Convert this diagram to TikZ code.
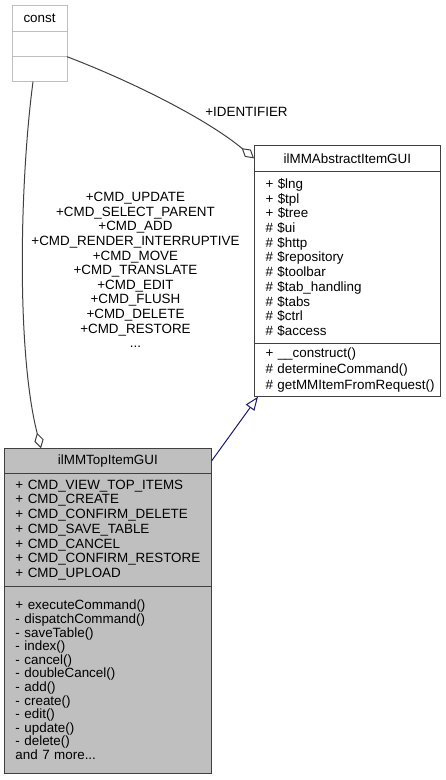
\documentclass[tikz,border=0pt]{standalone}
\usepackage{fontspec}
\setmainfont{Liberation Sans}
\usepackage{xcolor}
\usetikzlibrary{arrows.meta, positioning}
\definecolor{edgeblue}{HTML}{191970}

\begin{document}
\begin{tikzpicture}[x=1pt, y=-1pt,
        classname/.style={rectangle, draw=black!75, line width=1pt, inner xsep=11.5pt, inner ysep=0pt, outer sep=0pt, align=center, font={\fontsize{13.4}{14.7}\selectfont}},
        classpart/.style={classname, align=left, execute at begin node={\hyphenpenalty=10000\exhyphenpenalty=10000}},
        lightclass/.style={draw=gray!50},
        topclass/.style={fill=gray!50},
        aggr/.style={-{Diamond[open, length=16pt, width=9.5pt]}, draw=black!75, line width=1pt},
        inherit/.style={-{Triangle[open, length=13.6pt, width=10.4pt]}, draw=edgeblue, line width=1pt},
        edgelabel/.style={align=center, inner sep=0pt, font={\fontsize{13.4}{14.6}\selectfont}}]

        \useasboundingbox (0,0) rectangle (446,780);

        % Class const
        \node[classname, lightclass, text width=32pt, minimum height=26.7pt, anchor=north west] (constname) at (12,5) {const};
        \node[classpart, lightclass, text width=32pt, minimum height=25pt, below=0pt of constname] (constattrs) {};
        \node[classpart, lightclass, text width=32pt, minimum height=25pt, below=0pt of constattrs] (constmeth) {};

        % Class ilMMAbstractItemGUI
        \node[classname, text width=163.7pt, minimum height=26.7pt, anchor=north west] (absname) at (254,145) {ilMMAbstractItemGUI};
        \node[classpart, text width=163.7pt, minimum height=171.6pt, below=0pt of absname] (absattrs)
            {+~\$lng\\+~\$tpl\\+~\$tree\\\#~\$ui\\\#~\$http\\\#~\$repository\\\#~\$toolbar\\\#~\$tab\_handling\\\#~\$tabs\\\#~\$ctrl\\\#~\$access};
        \node[classpart, text width=163.7pt, minimum height=53.4pt, below=0pt of absattrs, font={\fontsize{13.4}{16.3}\selectfont}] (absmeth)
            {+~\_\_construct()\\\#~determineCommand()\\\#~getMMItemFromRequest()};

        % Class ilMMTopItemGUI
        \node[classname, topclass, text width=184.7pt, minimum height=25pt, anchor=north west] (topname) at (4,448.3) {ilMMTopItemGUI};
        \node[classpart, topclass, text width=184.7pt, minimum height=113.4pt, below=0pt of topname] (topattrs)
            {+~CMD\_VIEW\_TOP\_ITEMS\\+~CMD\_CREATE\\+~CMD\_CONFIRM\_DELETE\\+~CMD\_SAVE\_TABLE\\+~CMD\_CANCEL\\+~CMD\_CONFIRM\_RESTORE\\+~CMD\_UPLOAD};
        \node[classpart, topclass, text width=184.7pt, minimum height=186.6pt, below=0pt of topattrs, font={\fontsize{13.4}{13.6}\selectfont}] (topmeth)
            {+~executeCommand()\\-~dispatchCommand()\\-~saveTable()\\-~index()\\-~cancel()\\-~doubleCancel()\\-~add()\\-~create()\\-~edit()\\-~update()\\-~delete()\\and~7~more...};

        % Edge labels
        \node[edgelabel] (identlabel) at (246.5,112) {+IDENTIFIER};
        \node[edgelabel] (cmdlabel) at (135.5,270)
            {+CMD\_UPDATE\\+CMD\_SELECT\_PARENT\\+CMD\_ADD\\+CMD\_RENDER\_INTERRUPTIVE\\+CMD\_MOVE\\+CMD\_TRANSLATE\\+CMD\_EDIT\\+CMD\_FLUSH\\+CMD\_DELETE\\+CMD\_RESTORE\\...};

        % Edges
        \draw[aggr] (constmeth.north east) .. controls +(63,24) and +(-48,-40) .. (absname.west);
        \draw[aggr] ([xshift=21pt]constmeth.south west) .. controls +(-13,98) and +(-25,-98) .. ([xshift=37pt]topname.north west);
        \draw[inherit] (topname.east) -- ([xshift=4pt]absmeth.south west);

\end{tikzpicture}
\end{document}
